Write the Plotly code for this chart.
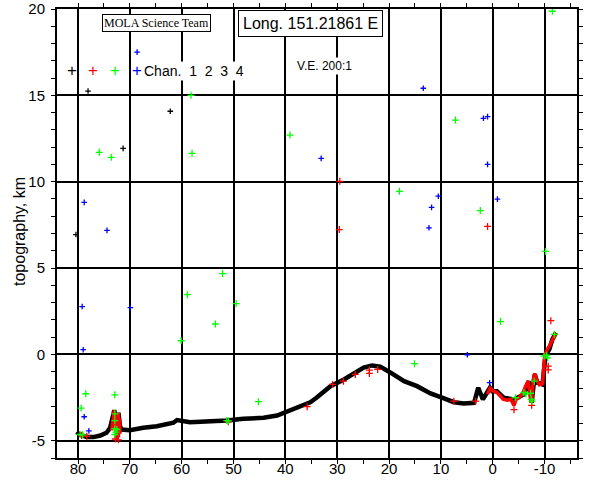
import plotly.graph_objects as go

# Channel 1 (black) main profile
ch1_lat = [80.25, 79.6, 78.3, 77.0, 75.7, 74.5, 73.8, 73.4, 73.0, 72.7, 72.5, 72.2, 71.9, 71.6, 70.0,
           67.4, 64.8, 61.6, 60.9, 58.4, 55.1, 51.3, 48.1, 44.2, 41.6, 39.7, 37.1, 35.2, 34.0, 31.3,
           28.7, 26.8, 24.9, 23.3, 21.7, 19.7, 17.1, 14.6, 12.0, 9.4, 7.5, 5.6, 3.6, 2.8, 1.9,
           0.55, 0.1, -0.8, -2.1, -4.1, -6.0, -7.0, -7.5, -8.1, -8.6, -9.6, -9.9, -10.2, -10.9,
           -11.5, -12.2]
ch1_topo = [-4.49, -4.66, -4.78, -4.79, -4.70, -4.54, -4.25, -3.77, -3.23, -3.87, -4.54, -3.38, -4.16,
            -4.35, -4.39, -4.25, -4.16, -3.96, -3.8, -3.93, -3.89, -3.83, -3.73, -3.67, -3.54, -3.33,
            -3.00, -2.77, -2.51, -1.84, -1.45, -1.10, -0.77, -0.64, -0.71, -1.06, -1.55, -1.84, -2.26,
            -2.55, -2.77, -2.84, -2.80, -1.93, -2.61, -1.93, -2.13, -2.13, -2.51, -2.61, -2.32, -1.55,
            -2.80, -1.16, -1.64, -1.74, -0.87, 0.0, 0.29, 0.87, 1.26]

# Channel 1 (black) isolated returns
ch1s_lat = [78.06, 62.2, 71.3, 80.4]
ch1s_topo = [15.25, 14.08, 11.93, 6.94]

# Channel 2 (red) dense segments (None separates segments)
ch2d_lat = [73.5, 73.2, 73.0, 72.8, 72.6, 72.4, 72.2, 72.2, 72.0, 71.9, None,
            1.0, 0.5, 0.0, -0.8, -1.5, -2.0, -2.8, -3.5, -4.1, -4.5, -5.1, -5.8, -6.4, -6.8,
            -7.2, -7.5, -7.8, -8.1, -8.5, -9.0, -9.6, -9.8, -10.0, -10.4, -10.8, -11.3, -11.8, -12.2]
ch2d_topo = [-4.4, -3.6, -3.25, -4.0, -4.9, -4.2, -3.4, -4.8, -3.7, -4.6, None,
             -2.3, -1.95, -2.1, -2.2, -2.42, -2.6, -2.65, -2.6, -2.95, -2.6, -2.5, -2.25, -1.8, -1.55,
             -2.3, -2.8, -1.5, -1.1, -1.5, -1.75, -1.7, -0.8, -0.1, 0.2, 0.4, 0.7, 1.0, 1.25]
# Channel 2 (red) individual returns
ch2_lat = [79.3, 78.3, 51.0, 35.8, 30.9, 28.8, 26.5, 23.8, 23.8, 22.2, 7.5, 3.3, 29.5, 29.6, 1.0,
           -11.2, -4.1, -10.7, -10.7, -7.5, 72.8, 72.2]
ch2_topo = [-4.7, -4.74, -3.90, -3.03, -1.74, -1.55, -1.16, -0.91, -1.1, -0.87, -2.71, -2.71, 10.02,
            7.23, 7.41, 1.95, -3.2, -0.68, -0.9, -2.95, -4.9, -4.95]

# Channel 3 (green)
ch3_lat = [75.9, 73.6, 58.2, 58.0, 39.1, -11.5, 7.2, 52.1, 58.9, 49.5, 53.5, 60.1, 18.0, 2.4, -10.2,
           -1.5, 15.1, 78.5, 72.9, 79.4, 45.2, 79.6, 79.1, 72.9, 72.9, 72.9, 72.5, 72.9, 72.7, 51.3,
           51.0, -4.4, -6.0, -7.3, -7.4, -7.6, -8.0, -9.9, -10.4, -10.6, -11.9, -6.4]
ch3_topo = [11.70, 11.41, 15.0, 11.64, 12.70, 19.87, 13.57, 4.68, 3.46, 2.94, 1.76, 0.79, 9.44, 8.33,
            5.96, 1.90, -0.54, -2.28, -2.34, -3.11, -2.74, -4.64, -4.66, -3.44, -3.84, -4.3, -4.35,
            -4.64, -4.5, -3.83, -3.85, -2.51, -2.22, -2.25, -2.61, -2.71, -1.55, -0.1, -0.05, -0.2,
            1.16, -2.3]

# Channel 4 (blue)
ch4_lat = [68.6, 13.4, 1.8, 1.0, 1.0, 33.1, 78.8, 74.4, 79.2, 69.9, 79.0, 10.5, 11.8, 12.3, -0.9, 4.9,
           78.8, 77.9, 0.6]
ch4_topo = [17.5, 15.41, 13.67, 13.77, 11.0, 11.35, 8.80, 7.18, 2.77, 2.71, 0.27, 9.16, 8.51, 7.33, 8.99,
            -0.02, -3.61, -4.43, -1.64]

x_ticks = [80, 70, 60, 50, 40, 30, 20, 10, 0, -10]
y_ticks = [-5, 0, 5, 10, 15, 20]

BLACK, RED, GREEN, BLUE = "#000000", "#ff0000", "#00ff00", "#0000ff"
FONT = "Liberation Sans, Arial, sans-serif"

def pts(x, y, color, size=4):
    return go.Scatter(x=x, y=y, mode="markers", showlegend=False, hoverinfo="skip",
                      marker=dict(symbol="cross-thin", size=size, color=color,
                                  line=dict(color=color, width=1.3)))

fig = go.Figure()
fig.add_trace(go.Scatter(x=ch1_lat, y=ch1_topo, mode="lines", showlegend=False, hoverinfo="skip",
                         line=dict(color=BLACK, width=4.5)))
fig.add_trace(pts(ch1s_lat, ch1s_topo, BLACK))
fig.add_trace(go.Scatter(x=ch2d_lat, y=ch2d_topo, mode="lines", showlegend=False, hoverinfo="skip",
                         connectgaps=False, line=dict(color=RED, width=3.5)))
fig.add_trace(pts(ch2_lat, ch2_topo, RED, 5))
fig.add_trace(pts(ch3_lat, ch3_topo, GREEN, 5))
fig.add_trace(pts(ch4_lat, ch4_topo, BLUE, 4))

# positions given in window pixels; the plot area spans x 57..577, y 9..458
def px_x(p):
    return (p - 57) / 520.0

def px_y(p):
    return 1 - (p - 9) / 449.0

def ann(text, x, y, size, color=BLACK, family=FONT, **kw):
    d = dict(text=text, x=px_x(x), y=px_y(y), xref="paper", yref="paper",
             xanchor="center", yanchor="middle", showarrow=False,
             font=dict(family=family, size=size, color=color))
    d.update(kw)
    return d

annotations = [
    ann("MOLA Science Team", 156, 22.5, 12, family="Liberation Serif, DejaVu Serif, serif",
        bgcolor="white", bordercolor=BLACK, borderwidth=1, borderpad=1),
    ann("Long. 151.21861 E", 310, 23, 16, bgcolor="white", bordercolor=BLACK, borderwidth=1,
        borderpad=4),
    ann("V.E. 200:1", 324, 66, 12, bgcolor="white"),
    ann("Chan.  1  2  3  4", 194, 71, 14, bgcolor="white"),
    ann("topography, km", 19, 232, 16, textangle=-90),
]
for xp, col in zip([72, 93, 115, 137], [BLACK, RED, GREEN, BLUE]):
    annotations.append(ann("+", xp, 70, 17, color=col))

axis_common = dict(showline=True, linecolor=BLACK, linewidth=2, mirror="allticks",
                   ticks="outside", ticklen=4, tickwidth=1, tickcolor=BLACK,
                   showgrid=True, gridcolor=BLACK, gridwidth=1.5, zeroline=False,
                   automargin=False,
                   tickfont=dict(family=FONT, size=15, color=BLACK))

fig.update_layout(
    width=600, height=480,
    margin=dict(l=57, r=23, t=9, b=22, autoexpand=False),
    paper_bgcolor="white", plot_bgcolor="white",
    showlegend=False, hovermode=False,
    xaxis=dict(range=[84.05, -16.25], tickvals=x_ticks, ticktext=[str(v) for v in x_ticks],
               minor=dict(dtick=5, ticks="outside", ticklen=4, tickcolor=BLACK, showgrid=False),
               ticklabelstandoff=-8, **axis_common),
    yaxis=dict(range=[-6, 20], tickvals=y_ticks, ticktext=[str(v) for v in y_ticks],
               minor=dict(dtick=1, ticks="outside", ticklen=4, tickcolor=BLACK, showgrid=False),
               ticklabelstandoff=3, **axis_common),
    annotations=annotations,
)

# remove the default page margin so the figure sits at the window's top-left corner
fig.write_html("out.html", config={"displayModeBar": False},
               post_script="document.body.style.margin='0';")
